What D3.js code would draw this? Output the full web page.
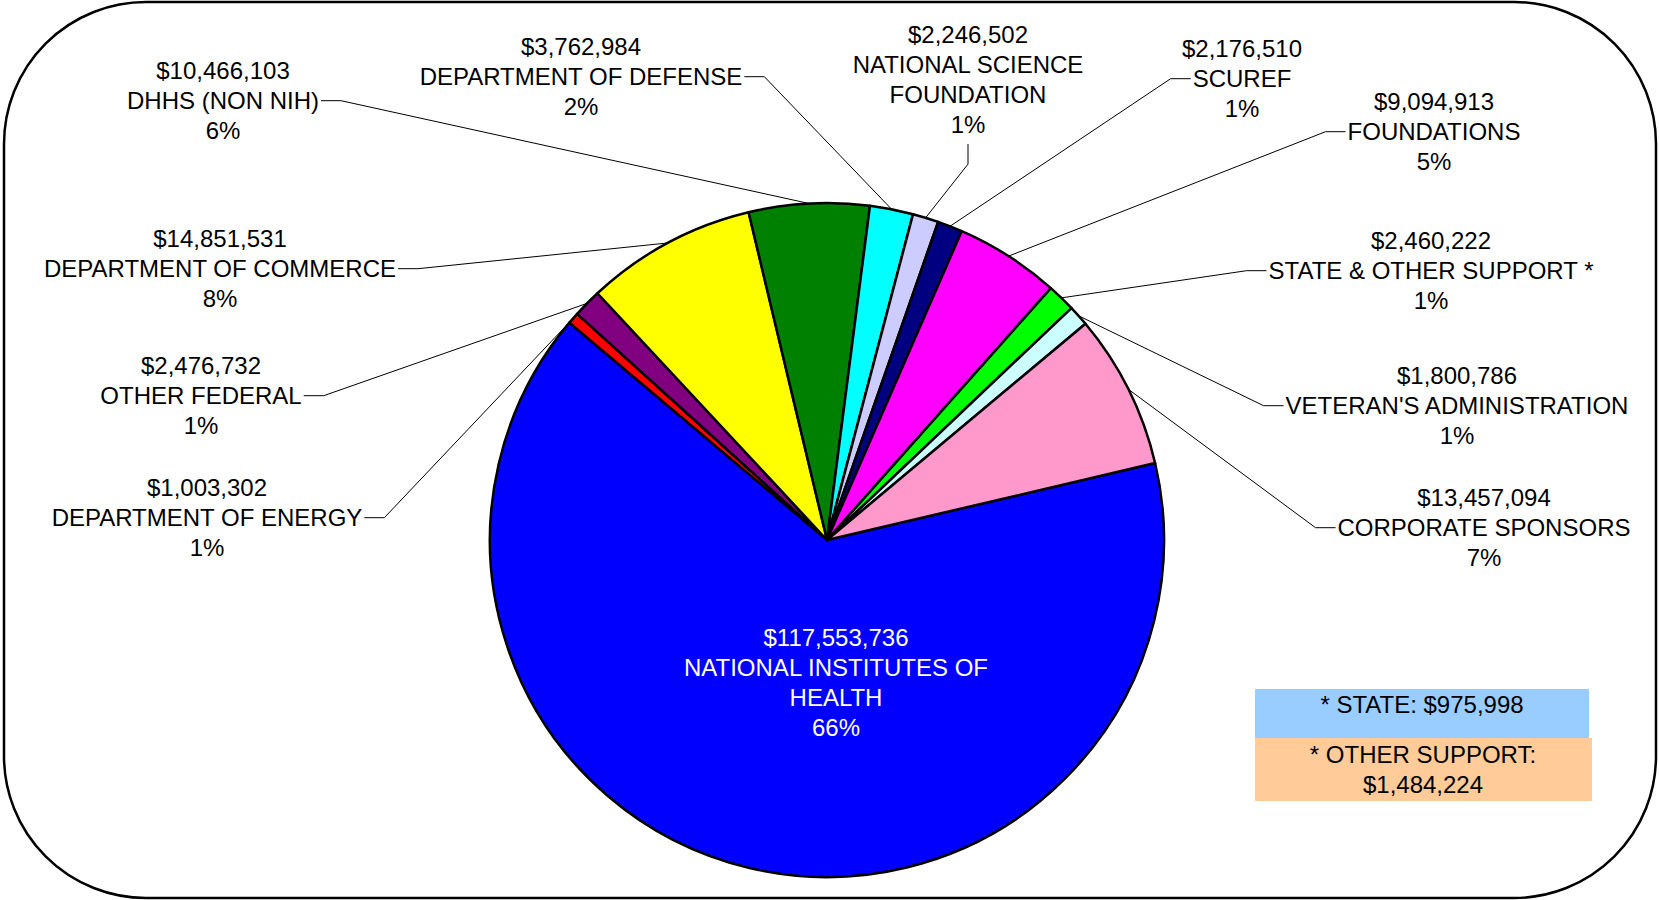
<!DOCTYPE html>
<html>
<head>
<meta charset="utf-8">
<script src="https://cdn.jsdelivr.net/npm/d3@7"></script>
<style>
  body { margin: 0; background: #fff; }
  text { font-family: "Liberation Sans", Arial, sans-serif; font-size: 24px; fill: #000; }
</style>
</head>
<body>
<div id="chart"></div>
<script>
// slices in clockwise order, starting with NIH
const categories = [
    "NATIONAL INSTITUTES OF\nHEALTH",
    "DEPARTMENT OF ENERGY",
    "OTHER FEDERAL",
    "DEPARTMENT OF COMMERCE",
    "DHHS (NON NIH)",
    "DEPARTMENT OF DEFENSE",
    "NATIONAL SCIENCE\nFOUNDATION",
    "SCUREF",
    "FOUNDATIONS",
    "STATE & OTHER SUPPORT *",
    "VETERAN'S ADMINISTRATION",
    "CORPORATE SPONSORS"
];
const amounts = [117553736, 1003302, 2476732, 14851531, 10466103, 3762984,
                 2246502, 2176510, 9094913, 2460222, 1800786, 13457094];
const percents = ["66%", "1%", "1%", "8%", "6%", "2%", "1%", "1%", "5%", "1%", "1%", "7%"];
const colors = ["#0000ff", "#ff0000", "#800080", "#ffff00", "#008000", "#00ffff",
                "#ccccff", "#000080", "#ff00ff", "#00ff00", "#ccffff", "#ff99cc"];

const stateSupport = 975998;
const otherSupport = 1484224;

// label placement (layout only)
const labelLayout = [
    {x: 836, y: 638, side: "none"},
    {x: 207, y: 488, side: "right"},
    {x: 201, y: 366, side: "right"},
    {x: 220, y: 239, side: "right"},
    {x: 223, y: 71, side: "right"},
    {x: 581, y: 47, side: "right"},
    {x: 968, y: 35, side: "below"},
    {x: 1242, y: 49, side: "left"},
    {x: 1434, y: 102, side: "left"},
    {x: 1431, y: 241, side: "left"},
    {x: 1457, y: 376, side: "left"},
    {x: 1484, y: 498, side: "left"}
];

let width = 1659,
    height = 900,
    cx = 827,
    cy = 540,
    radius = 337,
    lineH = 29.7,
    rot = 76.8 * Math.PI / 180;

let fmt = d3.format("$,");

let svg = d3.select("#chart").append("svg")
    .attr("width", width)
    .attr("height", height);

// rounded frame
svg.append("rect")
    .attr("x", 4)
    .attr("y", 2)
    .attr("width", width - 7)
    .attr("height", height - 4)
    .attr("rx", 142)
    .attr("ry", 142)
    .attr("fill", "#fff")
    .attr("stroke", "#000")
    .attr("stroke-width", 2.5);

let data = categories.map((c, i) => ({name: c, amount: amounts[i], pct: percents[i], color: colors[i]}));

let pie = d3.pie()
    .sort(null)
    .value(d => d.amount)
    .startAngle(rot)
    .endAngle(rot + 2 * Math.PI);

let arc = d3.arc().innerRadius(0).outerRadius(radius);

let arcs = pie(data);

let pieG = svg.append("g")
    .attr("transform", "translate(" + cx + "," + cy + ")");

pieG.selectAll(".slice")
    .data(arcs)
    .enter().append("path")
    .attr("class", "slice")
    .attr("d", arc)
    .attr("fill", d => d.data.color)
    .attr("stroke", "#000")
    .attr("stroke-width", 2.5)
    .attr("stroke-linejoin", "round");

// labels + leader lines
arcs.forEach((d, i) => {
    let pos = labelLayout[i];
    let lines = [fmt(d.data.amount)].concat(d.data.name.split("\n")).concat([d.data.pct]);
    let g = svg.append("g");
    let texts = lines.map((t, k) => g.append("text")
        .attr("x", pos.x)
        .attr("y", pos.y + k * lineH)
        .attr("dy", "0.35em")
        .attr("text-anchor", "middle")
        .style("fill", pos.side === "none" ? "#fff" : "#000")
        .text(t));

    if (pos.side === "none") return;

    let mid = (d.startAngle + d.endAngle) / 2;
    let tx = cx + radius * Math.sin(mid),
        ty = cy - radius * Math.cos(mid);
    let path = d3.path();

    if (pos.side === "below") {
        let y0 = pos.y + (lines.length - 1) * lineH + 20;
        path.moveTo(pos.x, y0);
        path.lineTo(pos.x, y0 + 20);
    } else {
        let w = texts[1].node().getComputedTextLength();
        let dir = pos.side === "right" ? 1 : -1;
        let x0 = pos.x + dir * (w / 2 + 2);
        let y0 = pos.y + lineH;
        path.moveTo(x0, y0);
        path.lineTo(x0 + dir * 20, y0);
    }
    path.lineTo(tx, ty);

    svg.append("path")
        .attr("d", path.toString())
        .attr("fill", "none")
        .attr("stroke", "#000")
        .attr("stroke-width", 1);
});

// footnote boxes
let noteG = svg.append("g");
noteG.append("rect")
    .attr("x", 1255).attr("y", 689)
    .attr("width", 334).attr("height", 49)
    .attr("fill", "#99ccff");
noteG.append("text")
    .attr("x", 1422).attr("y", 705)
    .attr("dy", "0.35em")
    .attr("text-anchor", "middle")
    .text("* STATE: " + fmt(stateSupport));

noteG.append("rect")
    .attr("x", 1255).attr("y", 738)
    .attr("width", 337).attr("height", 63)
    .attr("fill", "#ffcc99");
noteG.append("text")
    .attr("x", 1423).attr("y", 755)
    .attr("dy", "0.35em")
    .attr("text-anchor", "middle")
    .text("* OTHER SUPPORT:");
noteG.append("text")
    .attr("x", 1423).attr("y", 785)
    .attr("dy", "0.35em")
    .attr("text-anchor", "middle")
    .text(fmt(otherSupport));
</script>
</body>
</html>
